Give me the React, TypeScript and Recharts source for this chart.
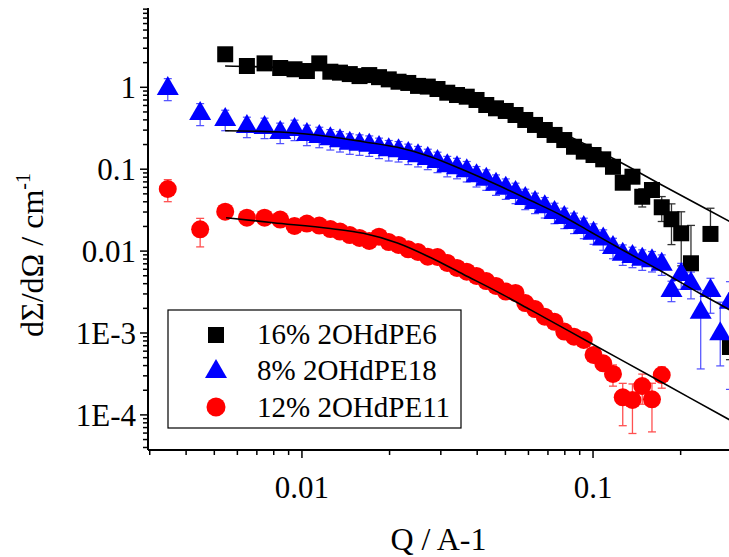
import React from 'react';
import { ScatterChart, Scatter, XAxis, YAxis, ErrorBar } from 'recharts';

const FONT = "'Liberation Serif', 'Times New Roman', Times, serif";

// Q values (A^-1) shared by the three measured series
const qGrid = [
  0.00346, 0.00447, 0.00545, 0.00647, 0.00744, 0.00842, 0.00943, 0.0104, 0.01147, 0.01252,
  0.01351, 0.0146, 0.01577, 0.01703, 0.0184, 0.01987, 0.02147, 0.02319, 0.02505, 0.02706,
  0.02922, 0.03157, 0.0341, 0.03683, 0.03979, 0.04298, 0.04642, 0.05014, 0.05417, 0.05851,
  0.0632, 0.06827, 0.07374, 0.07965, 0.08604, 0.09293, 0.1004, 0.1084, 0.1171, 0.1265,
  0.1366, 0.1476, 0.1594, 0.1722, 0.186, 0.2009, 0.217, 0.2344, 0.2532, 0.2735, 0.2954,
];

// 16% 2OHdPE6
const black16 = [
  null, null, 2.53, 1.82, 1.96, 1.72, 1.66, 1.58, 1.96, 1.55,
  1.51, 1.45, 1.37, 1.41, 1.33, 1.25, 1.17, 1.13, 1.04, 1.02,
  0.953, 0.859, 0.805, 0.768, 0.7, 0.608, 0.554, 0.514, 0.459, 0.399,
  0.347, 0.301, 0.262, 0.227, 0.188, 0.164, 0.149, 0.132, 0.107, 0.0684,
  0.081, 0.0461, 0.0557, 0.0343, 0.0245, 0.0165, 0.0071, null, 0.0162, null, 0.000675,
];
const black16ErrLo = [
  null, null, 0.05, 0.05, 0.05, 0.05, 0.05, 0.05, 0.05, 0.05,
  0.05, 0.05, 0.05, 0.05, 0.05, 0.05, 0.05, 0.05, 0.05, 0.05,
  0.05, 0.05, 0.05, 0.05, 0.05, 0.05, 0.05, 0.05, 0.05, 0.05,
  0.05, 0.05, 0.05, 0.05, 0.05, 0.05, 0.05, 0.05, 0.05, 0.15,
  0.15, 0.25, 0.15, 0.33, 0.51, 0.6, 0.5, null, 0.15, null, 0.3,
];
const black16ErrHi = [
  null, null, 0.05, 0.05, 0.05, 0.05, 0.05, 0.05, 0.05, 0.05,
  0.05, 0.05, 0.05, 0.05, 0.05, 0.05, 0.05, 0.05, 0.05, 0.05,
  0.05, 0.05, 0.05, 0.05, 0.05, 0.05, 0.05, 0.05, 0.05, 0.05,
  0.05, 0.05, 0.05, 0.05, 0.05, 0.05, 0.05, 0.05, 0.05, 0.15,
  0.15, 0.25, 0.15, 0.35, 0.54, 0.83, 1.9, null, 1.06, null, 0.3,
];

// 8% 2OHdPE18
const blue8 = [
  0.981, 0.486, 0.41, 0.337, 0.328, 0.285, 0.31, 0.269, 0.254, 0.238,
  0.225, 0.211, 0.205, 0.199, 0.187, 0.175, 0.17, 0.158, 0.148, 0.137,
  0.126, 0.112, 0.106, 0.097, 0.0842, 0.0766, 0.0665, 0.0594, 0.0527, 0.0445,
  0.0398, 0.0352, 0.03, 0.0261, 0.0227, 0.0197, 0.0168, 0.0142, 0.0112, 0.00929,
  0.00871, 0.00808, 0.00772, 0.00702, 0.00335, 0.00525, 0.00408, 0.00182, 0.00335, 0.000991, 0.00241,
];
const blue8ErrLo = [
  0.3, 0.3, 0.28, 0.28, 0.28, 0.28, 0.28, 0.28, 0.28, 0.28,
  0.28, 0.28, 0.28, 0.28, 0.28, 0.28, 0.28, 0.28, 0.28, 0.28,
  0.28, 0.28, 0.28, 0.28, 0.28, 0.28, 0.28, 0.28, 0.28, 0.28,
  0.28, 0.28, 0.28, 0.28, 0.28, 0.28, 0.28, 0.28, 0.28, 0.28,
  0.28, 0.28, 0.28, 0.28, 0.28, 0.35, 0.36, 0.8, 0.48, 0.6, 0.915,
];
const blue8ErrHi = [
  0.3, 0.3, 0.28, 0.28, 0.28, 0.28, 0.28, 0.28, 0.28, 0.28,
  0.28, 0.28, 0.28, 0.28, 0.28, 0.28, 0.28, 0.28, 0.28, 0.28,
  0.28, 0.28, 0.28, 0.28, 0.28, 0.28, 0.28, 0.28, 0.28, 0.28,
  0.28, 0.28, 0.28, 0.28, 0.28, 0.28, 0.28, 0.28, 0.28, 0.28,
  0.28, 0.28, 0.28, 0.28, 0.28, 0.35, 0.36, 0.8, 0.39, 1.4, 0.756,
];

// 12% 2OHdPE11
const red12 = [
  0.0573, 0.01845, 0.0303, 0.0256, 0.0256, 0.0243, 0.0203, 0.0217, 0.0205, 0.0186,
  0.0173, 0.0157, 0.0145, 0.0133, 0.015, 0.0129, 0.0119, 0.0105, 0.00975, 0.00854,
  0.00847, 0.00716, 0.00622, 0.0056, 0.00497, 0.00431, 0.00375, 0.00321, 0.00308, 0.00232,
  0.00196, 0.00158, 0.00137, 0.00104, 0.000901, 0.000821, 0.000539, 0.000427, 0.000316, 0.000164,
  0.000152, 0.000225, 0.000155, 0.000307,
];
const red12ErrLo = [
  0.3, 0.39, 0.1, 0.1, 0.1, 0.1, 0.1, 0.1, 0.1, 0.1,
  0.1, 0.1, 0.1, 0.1, 0.1, 0.1, 0.1, 0.1, 0.1, 0.1,
  0.1, 0.1, 0.1, 0.1, 0.1, 0.1, 0.1, 0.1, 0.1, 0.1,
  0.1, 0.1, 0.1, 0.1, 0.1, 0.1, 0.1, 0.1, 0.29, 0.55,
  0.61, 0.4, 0.6, 0.31,
];
const red12ErrHi = [
  0.3, 0.36, 0.1, 0.1, 0.1, 0.1, 0.1, 0.1, 0.1, 0.1,
  0.1, 0.1, 0.1, 0.1, 0.1, 0.1, 0.1, 0.1, 0.1, 0.1,
  0.1, 0.1, 0.1, 0.1, 0.1, 0.1, 0.1, 0.1, 0.1, 0.1,
  0.1, 0.1, 0.1, 0.1, 0.1, 0.1, 0.1, 0.1, 0.29, 0.48,
  0.57, 0.4, 0.57, 0.26,
];

// Fit curves
const blackFitQ = [0.005445, 0.00842, 0.01252, 0.01859, 0.02764, 0.04108, 0.06104, 0.0838, 0.1063, 0.1246, 0.171, 0.2954, 0.3489];
const blackFitI = [1.82, 1.745, 1.581, 1.355, 1.067, 0.74, 0.434, 0.247, 0.162, 0.1207, 0.065, 0.02286, 0.01663];
const blueFitQ = [0.005445, 0.00842, 0.01252, 0.01625, 0.02128, 0.02764, 0.03591, 0.04699, 0.06104, 0.07743, 0.0982, 0.1246, 0.171, 0.2348, 0.2954, 0.3489];
const blueFitI = [0.2951, 0.2846, 0.2493, 0.2167, 0.1851, 0.1421, 0.0978, 0.06413, 0.04147, 0.02759, 0.01711, 0.01061, 0.005715, 0.002994, 0.001909, 0.001362];
const redFitQ = [0.005488, 0.00796, 0.01252, 0.01625, 0.02128, 0.02764, 0.03591, 0.04699, 0.06104, 0.09977, 0.171, 0.2954, 0.3489];
const redFitI = [0.02557, 0.02222, 0.01887, 0.01649, 0.01256, 0.00835, 0.00518, 0.00318, 0.001914, 0.0007298, 0.0002536, 0.0000866, 0.0000625];

// Axes
const xDomain = [0.002959, 0.3489];
const yDomain = [3.727e-5, 9.295];
const xMajorTicks = [0.01, 0.1];
const xMajorLabels = ['0.01', '0.1'];
const xMinorTicks = [0.003, 0.004, 0.005, 0.006, 0.007, 0.008, 0.009, 0.02, 0.03, 0.04, 0.05, 0.06, 0.07, 0.08, 0.09, 0.2, 0.3];
const yMajorTicks = [1e-4, 1e-3, 0.01, 0.1, 1];
const yMajorLabels = ['1E-4', '1E-3', '0.01', '0.1', '1'];
const yMinorTicks = [
  4e-5, 5e-5, 6e-5, 7e-5, 8e-5, 9e-5,
  2e-4, 3e-4, 4e-4, 5e-4, 6e-4, 7e-4, 8e-4, 9e-4,
  2e-3, 3e-3, 4e-3, 5e-3, 6e-3, 7e-3, 8e-3, 9e-3,
  0.02, 0.03, 0.04, 0.05, 0.06, 0.07, 0.08, 0.09,
  0.2, 0.3, 0.4, 0.5, 0.6, 0.7, 0.8, 0.9,
  2, 3, 4, 5, 6, 7, 8, 9,
];

const seriesNames = ['16% 2OHdPE6', '8% 2OHdPE18', '12% 2OHdPE11'];

const buildRows = (vals: (number | null)[], lo: (number | null)[], hi: (number | null)[]) =>
  qGrid
    .map((q, k) => {
      const v = vals[k];
      if (v == null) return null;
      return { q, i: v, err: [v * (lo[k] ?? 0), v * (hi[k] ?? 0)] };
    })
    .filter(Boolean) as { q: number; i: number; err: number[] }[];

const blackRows = buildRows(black16, black16ErrLo, black16ErrHi);
const blueRows = buildRows(blue8, blue8ErrLo, blue8ErrHi);
const redRows = buildRows(red12, red12ErrLo, red12ErrHi);
const blackFit = blackFitQ.map((q, k) => ({ q, i: blackFitI[k] }));
const blueFit = blueFitQ.map((q, k) => ({ q, i: blueFitI[k] }));
const redFit = redFitQ.map((q, k) => ({ q, i: redFitI[k] }));

const findMajor = (list: number[], v: number) => list.findIndex((t) => Math.abs(t - v) / t < 1e-6);

const textStyle = { fontFamily: FONT };

const XTick = (props: any) => {
  const { x, y, payload } = props;
  const idx = findMajor(xMajorTicks, payload.value);
  const major = idx >= 0;
  return (
    <g>
      <line x1={x} y1={y} x2={x} y2={y + (major ? 8 : 5)} stroke="#000" strokeWidth={1.5} />
      {major && (
        <text x={x} y={y + 48} textAnchor="middle" style={textStyle} fontSize={31} fill="#000">
          {xMajorLabels[idx]}
        </text>
      )}
    </g>
  );
};

const YTick = (props: any) => {
  const { x, y, payload } = props;
  const idx = findMajor(yMajorTicks, payload.value);
  const major = idx >= 0;
  return (
    <g>
      <line x1={x - (major ? 8 : 5)} y1={y} x2={x} y2={y} stroke="#000" strokeWidth={1.5} />
      {major && (
        <text x={x - 12} y={y + 11} textAnchor="end" style={textStyle} fontSize={31} fill="#000">
          {yMajorLabels[idx]}
        </text>
      )}
    </g>
  );
};

const SquareShape = (p: any) => <rect x={p.cx - 8} y={p.cy - 8} width={16} height={16} fill="#000" />;
const TriangleShape = (p: any) => (
  <polygon points={`${p.cx},${p.cy - 12} ${p.cx + 11},${p.cy + 7} ${p.cx - 11},${p.cy + 7}`} fill="#0000ff" />
);
const CircleShape = (p: any) => <circle cx={p.cx} cy={p.cy} r={9} fill="#ff0000" />;
const NoShape = () => <g />;

const XTitle = () => (
  <text x={438.5} y={550} textAnchor="middle" style={textStyle} fontSize={32} fill="#000">
    Q / A-1
  </text>
);
const YTitle = () => (
  <text transform="translate(43, 255) rotate(-90)" textAnchor="middle" style={textStyle} fontSize={32} fill="#000">
    dΣ/dΩ / cm
    <tspan dy={-13} fontSize={20}>-1</tspan>
  </text>
);

const LegendBox = () => (
  <svg width={729} height={557} style={{ position: 'absolute', left: 0, top: 0, pointerEvents: 'none' }}>
    <rect x={168} y={310} width={293} height={118} fill="#fff" stroke="#000" strokeWidth={1.2} />
    <rect x={208} y={327} width={16} height={16} fill="#000" />
    <polygon points="216,359 227,378 205,378" fill="#0000ff" />
    <circle cx={216} cy={407} r={9.5} fill="#ff0000" />
    <text x={257} y={344} style={textStyle} fontSize={29} fill="#000">{seriesNames[0]}</text>
    <text x={257} y={380} style={textStyle} fontSize={29} fill="#000">{seriesNames[1]}</text>
    <text x={257} y={416.5} style={textStyle} fontSize={29} fill="#000">{seriesNames[2]}</text>
  </svg>
);

export default function App() {
  return (
    <div style={{ position: 'absolute', left: 0, top: 0, width: 729, height: 557, overflow: 'hidden', background: '#fff', fontFamily: FONT }}>
      <ScatterChart width={751} height={557} margin={{ top: 8, right: 0, bottom: 0, left: 0 }}>
        <XAxis
          type="number"
          dataKey="q"
          scale="log"
          domain={xDomain}
          allowDataOverflow
          ticks={[...xMinorTicks, ...xMajorTicks].sort((a, b) => a - b)}
          interval={0}
          tick={<XTick />}
          tickLine={false}
          tickSize={0}
          tickMargin={0}
          height={107}
          axisLine={{ stroke: '#000', strokeWidth: 2 }}
          label={{ content: <XTitle /> }}
        />
        <YAxis
          type="number"
          dataKey="i"
          scale="log"
          domain={yDomain}
          allowDataOverflow
          ticks={[...yMinorTicks, ...yMajorTicks].sort((a, b) => a - b)}
          interval={0}
          tick={<YTick />}
          tickLine={false}
          tickSize={0}
          tickMargin={0}
          width={148}
          axisLine={{ stroke: '#000', strokeWidth: 2 }}
          label={{ content: <YTitle /> }}
        />
        <Scatter name={seriesNames[0]} data={blackRows} shape={<SquareShape />} isAnimationActive={false}>
          <ErrorBar dataKey="err" direction="y" width={4} stroke="#333" strokeWidth={1.3} />
        </Scatter>
        <Scatter name={seriesNames[1]} data={blueRows} shape={<TriangleShape />} isAnimationActive={false}>
          <ErrorBar dataKey="err" direction="y" width={4} stroke="#4d4dff" strokeWidth={1.2} />
        </Scatter>
        <Scatter name={seriesNames[2]} data={redRows} shape={<CircleShape />} isAnimationActive={false}>
          <ErrorBar dataKey="err" direction="y" width={4} stroke="#ff5050" strokeWidth={1.3} />
        </Scatter>
        <Scatter data={blackFit} line={{ stroke: '#000', strokeWidth: 1.6 }} lineJointType="monotoneX" shape={<NoShape />} isAnimationActive={false} />
        <Scatter data={blueFit} line={{ stroke: '#000', strokeWidth: 1.6 }} lineJointType="monotoneX" shape={<NoShape />} isAnimationActive={false} />
        <Scatter data={redFit} line={{ stroke: '#000', strokeWidth: 1.6 }} lineJointType="monotoneX" shape={<NoShape />} isAnimationActive={false} />
      </ScatterChart>
      <LegendBox />
    </div>
  );
}
